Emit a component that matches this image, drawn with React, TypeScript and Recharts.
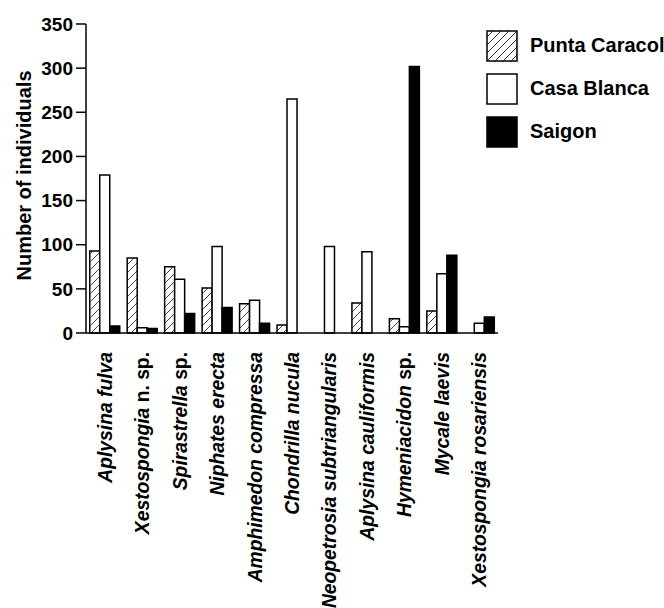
import { BarChart, Bar, XAxis, YAxis, Label } from 'recharts';

const species = [
  'Aplysina fulva',
  'Xestospongia n. sp.',
  'Spirastrella sp.',
  'Niphates erecta',
  'Amphimedon compressa',
  'Chondrilla nucula',
  'Neopetrosia subtriangularis',
  'Aplysina cauliformis',
  'Hymeniacidon sp.',
  'Mycale laevis',
  'Xestospongia rosariensis',
];

const puntaCaracol = [93, 85, 75, 51, 33, 9, 0, 34, 16, 25, 0];
const casaBlanca = [179, 6, 61, 98, 37, 265, 98, 92, 7, 67, 11];
const saigon = [8, 5, 22, 29, 11, 0, 0, 0, 302, 88, 18];

const yTicks = [0, 50, 100, 150, 200, 250, 300, 350];

const data = species.map((name, i) => ({
  name,
  pc: puntaCaracol[i],
  cb: casaBlanca[i],
  sg: saigon[i],
}));

const FONT = '"Liberation Sans", Arial, Helvetica, sans-serif';

const legendItems = [
  { label: 'Punta Caracol', fill: 'url(#hatchLegend)' },
  { label: 'Casa Blanca', fill: '#fff' },
  { label: 'Saigon', fill: '#000' },
];

function splitName(name: string) {
  const m = name.match(/^(.*?)( n\. sp\.| sp\.)$/);
  if (m) return [m[1], m[2]];
  return [name, ''];
}

function SpeciesTick(props: any) {
  const { x, y, payload } = props;
  const [italic, plain] = splitName(payload.value);
  return (
    <text
      transform={`translate(${x + 7},${y + 11}) rotate(-90)`}
      textAnchor="end"
      fontFamily={FONT}
      fontWeight="bold"
      fontSize={19.3}
      fill="#000"
    >
      <tspan fontStyle="italic">{italic}</tspan>
      {plain && <tspan>{plain}</tspan>}
    </text>
  );
}

function YLabel(props: any) {
  const { viewBox } = props;
  const cy = viewBox.y + viewBox.height / 2;
  return (
    <text
      transform={`translate(31,${cy - 3}) rotate(-90)`}
      textAnchor="middle"
      fontFamily={FONT}
      fontWeight="bold"
      fontSize={20}
      fill="#000"
    >
      Number of individuals
    </text>
  );
}

function LegendBox() {
  return (
    <div
      style={{
        position: 'absolute',
        left: 486,
        top: 24,
        fontFamily: FONT,
        fontWeight: 'bold',
        fontSize: 20,
      }}
    >
      <svg width={0} height={0} style={{ position: 'absolute' }}>
        <defs>
          <pattern id="hatchLegend" width="8" height="8" patternUnits="userSpaceOnUse">
            <path d="M-2,2 L2,-2 M0,8 L8,0 M6,10 L10,6" stroke="#333" strokeWidth={1} />
          </pattern>
        </defs>
      </svg>
      {legendItems.map((it) => (
        <div key={it.label} style={{ display: 'flex', alignItems: 'center', height: 43 }}>
          <svg width={32} height={32}>
            <rect x={1} y={1} width={30} height={30} fill={it.fill} stroke="#000" strokeWidth={1.5} />
          </svg>
          <span style={{ marginLeft: 12, whiteSpace: 'nowrap' }}>{it.label}</span>
        </div>
      ))}
    </div>
  );
}

export default function App() {
  return (
    <div style={{ position: 'absolute', left: 0, top: 0, width: 664, height: 608, background: '#fff' }}>
      <BarChart
        width={664}
        height={608}
        data={data}
        margin={{ top: 24, right: 166, bottom: 0, left: 0 }}
        barCategoryGap="10%"
        barGap={0}
      >
        <defs>
          <pattern id="hatch" width="8" height="8" patternUnits="userSpaceOnUse">
            <rect width="8" height="8" fill="#fff" />
            <path d="M-2,2 L2,-2 M0,8 L8,0 M6,10 L10,6" stroke="#444" strokeWidth={1} />
          </pattern>
        </defs>
        <XAxis
          dataKey="name"
          interval={0}
          height={275}
          tickLine={false}
          axisLine={{ stroke: '#000', strokeWidth: 1.5 }}
          tick={<SpeciesTick />}
        />
        <YAxis
          width={86}
          domain={[0, 350]}
          ticks={yTicks}
          tickSize={10}
          tickMargin={3}
          axisLine={{ stroke: '#000', strokeWidth: 1.5 }}
          tickLine={{ stroke: '#000', strokeWidth: 1.5 }}
          tick={{ fill: '#000', fontFamily: FONT, fontWeight: 'bold', fontSize: 19 }}
        >
          <Label content={<YLabel />} />
        </YAxis>
        <Bar dataKey="pc" fill="url(#hatch)" stroke="#000" strokeWidth={1.5} isAnimationActive={false} />
        <Bar dataKey="cb" fill="#fff" stroke="#000" strokeWidth={1.5} isAnimationActive={false} />
        <Bar dataKey="sg" fill="#000" stroke="#000" strokeWidth={1.5} isAnimationActive={false} />
      </BarChart>
      <LegendBox />
    </div>
  );
}
